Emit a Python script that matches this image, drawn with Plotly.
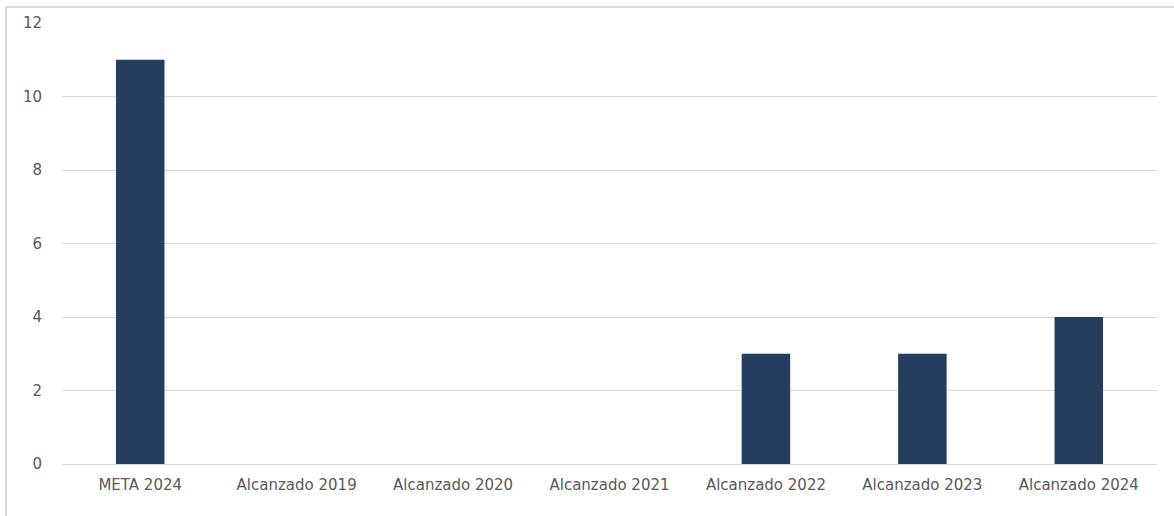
import plotly.graph_objects as go

categories = ["META 2024", "Alcanzado 2019", "Alcanzado 2020", "Alcanzado 2021",
              "Alcanzado 2022", "Alcanzado 2023", "Alcanzado 2024"]
values = [11, 0, 0, 0, 3, 3, 4]
y_ticks = [0, 2, 4, 6, 8, 10, 12]

W, H = 1174, 516
L, R, T, B = 62, 17, 23, 52
pw, ph = W - L - R, H - T - B

fig = go.Figure(go.Bar(
    x=categories, y=values,
    marker=dict(color="#253D5E", line=dict(width=0)),
    hoverinfo="skip",
))

border = "#D9D9D9"
fx = lambda px: (px - L) / pw
fy = lambda py: 1 - (py - T) / ph

fig.update_layout(
    width=W, height=H,
    margin=dict(l=L, r=R, t=T, b=B, pad=0),
    paper_bgcolor="white", plot_bgcolor="white",
    bargap=0.69,
    showlegend=False,
    font=dict(family="DejaVu Sans, sans-serif", color="#595959"),
    xaxis=dict(showgrid=False, showline=True, linecolor="#D9D9D9", linewidth=1,
               ticks="", tickfont=dict(size=15, color="#595959"),
               ticklabelstandoff=7),
    yaxis=dict(range=[0, 12], tickvals=y_ticks, showgrid=True,
               gridcolor="#D9D9D9", gridwidth=1, zeroline=False,
               showline=False, ticks="", tickfont=dict(size=15, color="#595959"),
               ticklabelstandoff=19),
    shapes=[
        dict(type="line", xref="paper", yref="paper",
             x0=fx(6), x1=fx(6), y0=fy(7), y1=fy(516), line=dict(color=border, width=2)),
        dict(type="line", xref="paper", yref="paper",
             x0=fx(6), x1=fx(1174), y0=fy(7), y1=fy(7), line=dict(color=border, width=2)),
    ],
)

fig.write_html("out.html", config={"displayModeBar": False},
               post_script="document.body.style.margin='0';document.body.style.overflow='hidden';")
